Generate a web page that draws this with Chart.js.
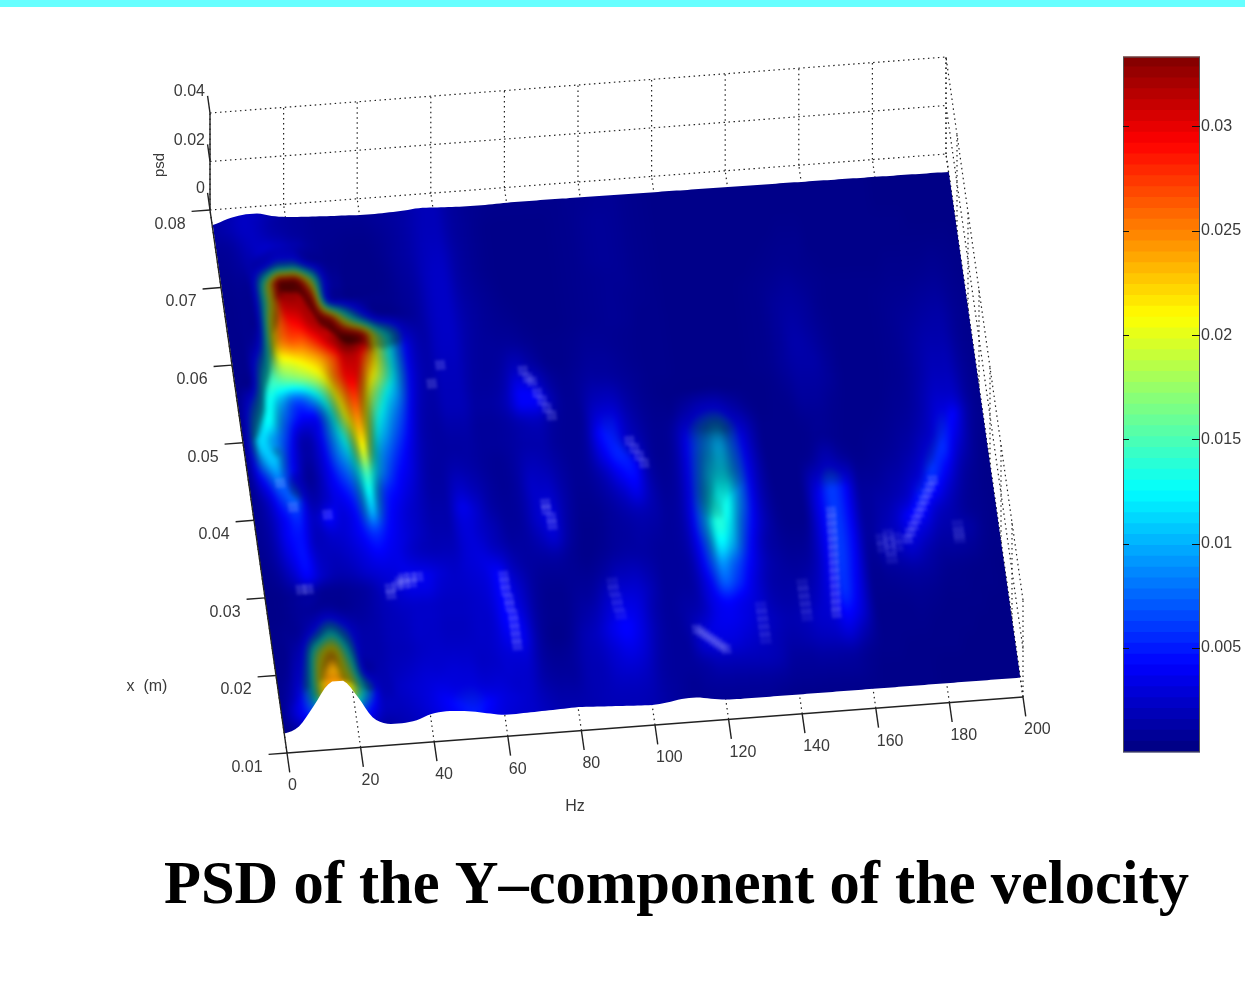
<!DOCTYPE html>
<html>
<head>
<meta charset="utf-8">
<style>
    html, body { margin: 0; padding: 0; background: #fff; overflow: hidden; }
    #top-strip { position: absolute; left: 0; top: 0; width: 1245px; height: 7px; background: #66ffff; }
    #surfaceChart { position: absolute; left: 0; top: 0; }
    #colorbarChart { position: absolute; left: 1123px; top: 46px; }
</style>
<script src="https://cdn.jsdelivr.net/npm/chart.js@4/dist/chart.umd.min.js"></script>
</head>
<body>
<canvas id="surfaceChart" width="1245" height="999"></canvas>
<canvas id="colorbarChart" width="122" height="717"></canvas>
<div id="top-strip"></div>
<script>
const TITLE = 'PSD of the Y\u2013component of the velocity';

// axis ticks
const hzTicks = [0, 20, 40, 60, 80, 100, 120, 140, 160, 180, 200];
const xTicks = [0.01, 0.02, 0.03, 0.04, 0.05, 0.06, 0.07, 0.08];
const psdTicks = [0, 0.02, 0.04];
const colorTicks = [0.005, 0.01, 0.015, 0.02, 0.025, 0.03];

// surface sample positions
const hzValues = [0, 4, 8, 12, 16, 20, 24, 28, 32, 36, 40, 44, 48, 52, 56, 60, 64, 68, 72, 76, 80, 84, 88, 92, 96, 100,
    104, 108, 112, 116, 120, 124, 128, 132, 136, 140, 144, 148, 152, 156, 160, 164, 168, 172, 176, 180, 184, 188, 192, 196, 200];
const xValues = [0.0775, 0.075, 0.0725, 0.07, 0.0675, 0.065, 0.0625, 0.06, 0.0575, 0.055, 0.0525, 0.05, 0.0475, 0.045,
    0.0425, 0.04, 0.0375, 0.035, 0.0325, 0.03, 0.0275, 0.025, 0.0225, 0.02, 0.0175, 0.015, 0.0125];

// psd in units of 1e-4, one row per xValues entry, one column per hzValues entry
const psdRows = [
    [12,16,22,20,14,10,8,6,6,6,6,8,10,13, 18,19,11,7,5, 4,4,4,4,4, 5,6,7,7,5, 4,3,3,3,3,3, 3,3,3,3,3, 3,3,3,3,3, 2,2,2,2,2,2],
    [8,10,18,24,30,22,10,6,5,4,4,6,9,13, 19,20,11,7,4, 3,3,3,3,4, 5,7,8,7,5, 4,3,3,3,3,3, 3,3,3,3,3, 3,3,3,3,3, 2,2,2,2,2,2],
    [6,8,14,30,70,70,20,6,4,3,3,5,9,13, 20,22,12,7,4, 3,3,3,3,4, 5,7,8,7,5, 4,3,3,3,3,3, 3,3,3,4,4, 3,3,3,3,3, 3,3,2,2,2,2],
    [5,6,14,170,325,320,200,30,6,3,3,4,8,12, 21,23,12,7,4, 3,3,3,3,4, 5,7,8,7,5, 4,3,3,3,3,3, 3,3,4,5,5, 3,3,3,3,3, 3,3,3,3,3,2],
    [4,5,10,180,300,320,290,40,10,5,4,4,7,11, 21,23,13,8,5, 3,3,3,3,4, 5,6,7,7,5, 4,3,3,3,3,3, 3,4,5,6,5, 4,3,3,3,3, 4,4,4,5,4,3],
    [4,5,10,210,280,300,320,290,170,80,20,8,7,11, 21,23,14,9,6, 4,3,3,3,4, 5,6,7,6,5, 4,3,3,3,3,3, 4,5,7,9,7, 5,4,4,4,4, 5,5,6,7,5,3],
    [4,5,40,215,260,265,290,320,333,300,170,95,30,13, 21,23,14,9,7, 6,4,3,3,4, 5,6,7,6,4, 4,3,3,3,3,3, 4,5,9,11,9, 5,4,4,4,5, 6,7,9,10,6,4],
    [4,6,90,185,205,220,240,275,315,265,180,100,32,14, 21,22,13,9,9, 11,7,4,4,5, 7,7,6,5,4, 4,3,3,3,3,3, 4,5,9,13,10, 6,4,4,4,5, 7,9,12,13,7,4],
    [4,8,125,150,160,175,205,265,300,230,170,100,32,14, 20,20,12,9,12, 26,16,6,4,6, 9,9,7,5,4, 4,3,3,3,3,3, 4,5,9,14,12, 7,4,4,4,5, 7,11,15,15,7,4],
    [4,60,128,100,70,95,150,230,275,190,130,85,28,13, 19,19,11,10,16, 40,36,14,6,8, 13,13,9,6,4, 4,3,3,3,3,3, 4,5,9,13,13, 8,4,4,4,5, 7,12,18,18,8,4],
    [5,95,125,75,42,38,105,195,250,155,105,65,22,12, 18,18,11,11,18, 40,40,18,7,9, 24,28,14,7,4, 3,3,4,5,3,3, 3,4,7,11,11, 8,4,4,4,5, 7,13,22,22,9,4],
    [5,112,95,58,16,30,85,150,225,130,85,50,18,11, 14,14,9,9,12, 18,20,11,7,9, 38,44,20,9,5, 5,18,35,40,22,8, 3,4,5,9,9, 6,4,4,4,6, 8,16,30,30,10,4],
    [5,85,105,48,12,26,70,115,195,105,65,38,16,11, 12,12,9,9,11, 15,15,9,7,11, 42,50,28,11,6, 12,45,75,90,55,20, 4,4,4,6,7, 5,4,4,5,7, 10,20,42,40,12,4],
    [5,45,82,46,8,24,52,85,150,88,50,32,14,11, 18,14,9,7,11, 20,18,11,7,11, 34,52,44,13,6, 14,52,88,102,65,24, 4,4,4,5,9, 5,4,5,6,9, 14,30,52,35,10,4],
    [5,22,58,72,16,30,38,62,125,60,40,26,13,12, 28,20,11,7,11, 24,24,13,7,9, 20,38,45,15,7, 16,58,102,112,72,26, 5,4,4,10,28, 14,5,6,8,12, 22,48,55,25,8,3],
    [6,16,40,55,22,42,30,48,100,50,32,22,14,14, 34,26,13,8,11, 24,28,14,6,7, 13,23,34,16,8, 18,65,115,125,78,26, 6,4,4,30,60, 44,8,8,12,18, 36,58,40,15,6,3],
    [6,14,38,46,20,26,28,40,60,42,30,22,16,16, 30,26,18,9,11, 24,30,13,5,5, 9,14,18,14,9, 20,72,130,128,75,26, 7,4,4,34,60, 44,10,12,16,28, 50,45,25,10,5,3],
    [5,12,32,46,24,20,24,32,42,36,30,24,20,20, 28,30,24,12,11, 18,26,11,4,5, 9,11,13,11,9, 20,72,135,118,62,24, 8,4,5,34,60, 44,10,14,22,40, 44,25,16,8,5,3],
    [4,8,22,40,24,16,18,25,30,32,36,36,28,24, 28,32,40,20,11, 11,12,7,4,7, 12,14,12,9,9, 18,60,120,100,50,18, 9,6,9,34,60, 44,10,16,22,34, 28,16,14,12,5,3],
    [3,4,8,10,6,6,8,12,22,28,34,34,26,24, 26,30,42,28,12, 7,7,7,7,14, 24,24,16,9,9, 15,50,90,70,40,18, 11,9,13,34,60, 42,8,14,18,24, 16,10,10,8,4,3],
    [3,4,8,14,25,14,10,13,18,22,24,24,22,22, 24,28,42,32,12, 5,5,9,12,26, 34,30,18,9,10, 14,38,70,55,32,16, 12,12,18,34,58, 38,6,8,10,12, 10,6,5,4,3,2],
    [4,6,14,60,115,65,16,14,18,20,24,24,22,22, 24,26,42,36,12, 5,5,12,19,32, 40,32,16,9,12, 18,32,42,36,28,18, 14,16,22,32,55, 34,5,5,6,7, 6,4,4,3,3,2],
    [4,8,45,175,225,125,16,14,18,20,24,26,26,26, 24,26,36,36,12, 4,6,16,22,34, 42,32,16,9,12, 26,34,36,32,26,20, 16,18,24,28,42, 28,5,4,4,5, 4,3,3,3,2,2],
    [4,15,70,215,235,170,25,16,20,24,28,30,32,32, 26,26,28,28,12, 7,9,16,20,28, 34,28,14,9,10, 26,30,30,26,22,18, 14,16,20,22,28, 16,5,4,4,4, 3,3,3,2,2,2],
    [5,25,85,220,240,200,90,18,22,26,30,36,38,40, 34,30,26,24,14, 10,10,16,18,24, 26,22,12,9,9, 13,18,18,18,18,16, 10,10,12,12,12, 7,4,4,3,3, 3,3,2,2,2,2],
    [6,30,60,100,120,100,50,20,20,24,30,38,46,50, 42,32,28,24,18, 14,14,16,18,20, 20,18,12,9,7, 9,10,10,10,10,9, 7,7,7,7,7, 5,3,3,3,3, 2,2,2,2,2,2],
    [4,10,20,40,40,40,20,12,16,20,26,34,42,50, 38,30,26,24,19, 16,16,16,18,18, 18,16,12,9,7, 7,7,7,7,7,5, 4,4,4,4,4, 4,3,3,3,3, 2,2,2,2,2,2]
];

// height of the two free edges of the surface, same units, per hzValues entry
const nearEdge = [0,25,105,190,200,128,40,8,6,14,35,41,38,30,18,8,9,11,13,15,17,14,11,8,5,3,8,18,20,10,2,
    0,0,0,0,0,0,0,0,0,0,0,0,0,0,0,0,0,0,0,0];
const farEdge = [18,38,50,52,37,28,24,21,18,16,13,13,15,18,23,21,18,16,15,16,18,
    18,18,18,17,17,17,16,16,15,15,15,14,14,14,13,13,12,12,12,11,11,10,10,9,9,8,8,7,7,6];

// pale specular spots on the surface
const spotHz = [65,65,65,65.5,65.5,66,66,66,66,66,
    155.5,155.3,155.1,155,154.8,154.6,154.4,154.2,154,153.8,153.6,153.4,153.2,153,
    184,183,182,181,180,179,178,177,176,175,
    34,34,36,38,38,40,40,42,37,
    10,12,11,8.5,20,
    78,79,80,81,82,83,84,
    79,79,80,80,56,53,
    115,116,117,118,119,120,121,122,
    104,105,106,107];
const spotX = [0.0305,0.0295,0.0285,0.0275,0.0265,0.0255,0.0245,0.0235,0.0225,0.0215,
    0.0355,0.0345,0.0335,0.0325,0.0315,0.0305,0.0295,0.0285,0.0275,0.0265,0.0255,0.0245,0.0235,0.0225,
    0.0385,0.0377,0.0369,0.0361,0.0353,0.0345,0.0337,0.0329,0.0321,0.0313,
    0.03,0.0292,0.0303,0.0312,0.0304,0.0312,0.0305,0.0312,0.0308,
    0.0307,0.0307,0.0413,0.0445,0.04,
    0.0565,0.0555,0.055,0.0535,0.0525,0.0515,0.0505,
    0.0393,0.0385,0.0375,0.0365,0.058,0.0557,
    0.0218,0.0214,0.021,0.0206,0.0202,0.0198,0.0194,0.019,
    0.0465,0.0455,0.0445,0.0435];

// fainter ones
const faintHz = [94,94,94.5,94.5,95,
    133,133,133,133,133,
    145,145,145,145,145,
    170,170,170,170,168,168,172,172,189,189,189];
const faintX = [0.0285,0.0275,0.0265,0.0255,0.0245,
    0.024,0.023,0.022,0.021,0.02,
    0.0265,0.0255,0.0245,0.0235,0.0225,
    0.032,0.031,0.03,0.029,0.0315,0.0305,0.0315,0.0305,0.0325,0.0315,0.031];

const COLOR_MAX = 0.03335;
const LEVELS = 64;
const Z_PX = 97 / 0.04;          // screen px per psd unit
const SHEAR_X = -77 / 543;
const SHEAR_Y = -56 / 736;
const TICK_COLOR = '#222222';
const TEXT_COLOR = '#3a3a3a';
const LABEL_FONT = '16px "Liberation Sans", Arial, sans-serif';

function jet(t) {
    t = Math.min(1, Math.max(0, t));
    const ramp = (v) => Math.min(1, Math.max(0, 1.5 - Math.abs(4 * t - v)));
    return [ramp(3), ramp(2), ramp(1)];
}

// cubic through p1..p2, held inside them so steep rims do not ring
function cubic(p0, p1, p2, p3, t) {
    const v = p1 + 0.5 * t * (p2 - p0 + t * (2 * p0 - 5 * p1 + 4 * p2 - p3 + t * (3 * (p1 - p2) + p3 - p0)));
    return Math.min(Math.max(p1, p2), Math.max(Math.min(p1, p2), v));
}

function sampleEdge(edge, hz) {
    const f = Math.min(edge.length - 1.001, Math.max(0, hz / 4));
    const i = Math.floor(f);
    const at = (k) => edge[Math.min(edge.length - 1, Math.max(0, k))];
    return cubic(at(i - 1), at(i), at(i + 1), at(i + 2), f - i);
}

function sampleGrid(rowF, colF) {
    const rows = psdRows.length, cols = hzValues.length;
    rowF = Math.min(rows - 1.001, Math.max(0, rowF));
    colF = Math.min(cols - 1.001, Math.max(0, colF));
    const r = Math.floor(rowF), c = Math.floor(colF);
    const line = [];
    for (let k = -1; k <= 2; k++) {
        const row = psdRows[Math.min(rows - 1, Math.max(0, r + k))];
        line.push(cubic(row[Math.max(0, c - 1)], row[c], row[c + 1], row[Math.min(cols - 1, c + 2)], colF - c));
    }
    return cubic(line[0], line[1], line[2], line[3], rowF - r);
}

// floor + height to screen, the view is close enough to affine
function project(chart, hz, xm, psd) {
    const { left, bottom } = chart.chartArea;
    const px = chart.scales.x.getPixelForValue(hz);
    const py = chart.scales.y.getPixelForValue(xm);
    return {
        x: px + SHEAR_X * (bottom - py),
        y: py + SHEAR_Y * (px - left) - psd * Z_PX
    };
}

function applyShear(chart, ctx) {
    const { left, bottom } = chart.chartArea;
    ctx.transform(1, SHEAR_Y, -SHEAR_X, 1, SHEAR_X * bottom, -SHEAR_Y * left);
}

function strokeLine(chart, ctx, a, b) {
    const p = project(chart, a[0], a[1], a[2]);
    const q = project(chart, b[0], b[1], b[2]);
    ctx.beginPath();
    ctx.moveTo(p.x, p.y);
    ctx.lineTo(q.x, q.y);
    ctx.stroke();
}

function drawWalls(chart, ctx) {
    ctx.save();
    ctx.strokeStyle = '#222222';
    ctx.lineWidth = 1.2;
    ctx.setLineDash([1.5, 3.5]);
    for (const hz of hzTicks) {
        strokeLine(chart, ctx, [hz, 0.08, 0], [hz, 0.08, 0.04]);
        strokeLine(chart, ctx, [hz, 0.01, 0], [hz, 0.08, 0]);
    }
    for (const z of psdTicks) {
        strokeLine(chart, ctx, [0, 0.08, z], [200, 0.08, z]);
        strokeLine(chart, ctx, [200, 0.01, z], [200, 0.08, z]);
    }
    for (const x of xTicks) {
        strokeLine(chart, ctx, [200, x, 0], [200, x, 0.04]);
    }
    ctx.restore();
}

function buildSurfaceImage(chart) {
    const xs = chart.scales.x, ys = chart.scales.y;
    const topPx = Math.floor(ys.getPixelForValue(xValues[0])) - 40;
    const bottomPx = Math.ceil(ys.getPixelForValue(xValues[xValues.length - 1])) + 8;
    const leftPx = Math.floor(xs.left) - 8, rightPx = Math.ceil(xs.right) + 8;
    const w = rightPx - leftPx, h = bottomPx - topPx;
    const step = xValues[0] - xValues[1];
    const pad = 12;
    const span = w + 2 * pad;

    const values = new Float32Array(span * (h + 2 * pad));
    for (let j = 0; j < h + 2 * pad; j++) {
        const xm = ys.getValueForPixel(topPx + j - pad);
        const rowF = (xValues[0] - xm) / step;
        for (let i = 0; i < span; i++) {
            const hz = xs.getValueForPixel(leftPx + i - pad);
            values[j * span + i] = sampleGrid(rowF, hz / 4);
        }
    }

    const canvas = document.createElement('canvas');
    canvas.width = w;
    canvas.height = h;
    const off = canvas.getContext('2d');
    const img = off.createImageData(w, h);
    const unit = 1e-4 * Z_PX;
    for (let j = 0; j < h; j++) {
        for (let i = 0; i < w; i++) {
            const o = (j + pad) * span + i + pad;
            const v = values[o];
            const gx = (values[o + 3] - values[o - 3]) / 6 * unit;
            const gy = (values[o + 12 * span] - values[o - 12 * span]) / 24 * unit;
            // lit from the viewer's side: slopes turned away go dark, the deep blue floor hardly changes
            let shade = 1 / Math.sqrt(1 + 0.5 * gx * gx);
            if (gy > 0) shade /= 1 + 2.8 * gy;
            shade = Math.max(0.5, shade);
            const weight = Math.min(1, v / 80);
            shade = 1 - (1 - shade) * weight;
            const c = jet(v * 1e-4 / COLOR_MAX);
            const p = (j * w + i) * 4;
            img.data[p] = c[0] * shade * 255;
            img.data[p + 1] = c[1] * shade * 255;
            img.data[p + 2] = c[2] * shade * 255;
            img.data[p + 3] = 255;
        }
    }
    off.putImageData(img, 0, 0);
    return { canvas, left: leftPx, top: topPx, w, h };
}

function drawSurface(chart, ctx) {
    const surface = buildSurfaceImage(chart);
    const far = xValues[0], near = xValues[xValues.length - 1];

    ctx.save();
    ctx.beginPath();
    for (let hz = 0; hz <= 200; hz += 1) {
        const p = project(chart, hz, far, sampleEdge(farEdge, hz) * 1e-4);
        if (hz === 0) ctx.moveTo(p.x, p.y); else ctx.lineTo(p.x, p.y);
    }
    for (let hz = 200; hz >= 0; hz -= 1) {
        const p = project(chart, hz, near, sampleEdge(nearEdge, hz) * 1e-4);
        ctx.lineTo(p.x, p.y);
    }
    ctx.closePath();
    ctx.clip();
    applyShear(chart, ctx);
    ctx.imageSmoothingEnabled = true;
    ctx.filter = 'blur(2px)';
    ctx.drawImage(surface.canvas, surface.left, surface.top, surface.w, surface.h);
    ctx.restore();
}

function drawAxes(chart, ctx) {
    ctx.save();
    ctx.strokeStyle = TICK_COLOR;
    ctx.lineWidth = 1.4;
    strokeLine(chart, ctx, [0, 0.01, 0], [200, 0.01, 0]);
    strokeLine(chart, ctx, [0, 0.01, 0], [0, 0.08, 0]);
    strokeLine(chart, ctx, [0, 0.08, 0], [0, 0.08, 0.04]);

    ctx.fillStyle = TEXT_COLOR;
    ctx.font = LABEL_FONT;
    ctx.textBaseline = 'middle';

    ctx.textAlign = 'left';
    for (const hz of hzTicks) {
        strokeLine(chart, ctx, [hz, 0.01, 0], [hz, 0.0075, 0]);
        const p = project(chart, hz, 0.01, 0);
        ctx.fillText(String(hz), p.x + 1, p.y + 33);
    }
    ctx.textAlign = 'right';
    for (const x of xTicks) {
        strokeLine(chart, ctx, [0, x, 0], [-5, x, 0]);
        const p = project(chart, -5, x, 0);
        ctx.fillText(x.toFixed(2), p.x - 6, p.y + 13);
    }
    for (const z of psdTicks) {
        strokeLine(chart, ctx, [0, 0.08, z], [0, 0.0822, z]);
        const p = project(chart, 0, 0.08, z);
        ctx.fillText(String(z), p.x - 5, p.y - 21);
    }

    ctx.textAlign = 'center';
    ctx.fillText('Hz', 575, 807);
    ctx.fillText('x  (m)', 147, 687);
    ctx.save();
    ctx.translate(160, 165);
    ctx.rotate(-Math.PI / 2);
    ctx.font = '15px "Liberation Sans", Arial, sans-serif';
    ctx.fillText('psd', 0, 0);
    ctx.restore();

    ctx.fillStyle = '#000';
    ctx.font = 'bold 60.5px "Liberation Serif", "Times New Roman", serif';
    ctx.textAlign = 'left';
    ctx.textBaseline = 'alphabetic';
    ctx.fillText(TITLE, 164, 903);
    ctx.restore();
}

const surfacePlugin = {
    id: 'surface',
    beforeDatasetsDraw(chart) {
        drawWalls(chart, chart.ctx);
        drawSurface(chart, chart.ctx);
    },
    beforeDatasetDraw(chart) {
        chart.ctx.save();
        applyShear(chart, chart.ctx);
        chart.ctx.filter = 'blur(1.5px)';
    },
    afterDatasetDraw(chart) {
        chart.ctx.restore();
    },
    afterDatasetsDraw(chart) {
        drawAxes(chart, chart.ctx);
    }
};

new Chart(document.getElementById('surfaceChart'), {
    type: 'scatter',
    plugins: [surfacePlugin],
    data: {
        datasets: [{
            label: 'highlights',
            data: spotHz.map((hz, i) => ({ x: hz, y: spotX[i] })),
            pointStyle: 'rect',
            pointRadius: 7,
            pointBorderWidth: 0,
            pointBackgroundColor: 'rgba(170, 170, 255, 0.22)',
            clip: false
        }, {
            label: 'faint highlights',
            data: faintHz.map((hz, i) => ({ x: hz, y: faintX[i] })),
            pointStyle: 'rect',
            pointRadius: 8,
            pointBorderWidth: 0,
            pointBackgroundColor: 'rgba(150, 150, 255, 0.12)',
            clip: false
        }]
    },
    options: {
        responsive: false,
        animation: false,
        layout: { padding: { left: 287, right: 222, top: 210, bottom: 246 } },
        plugins: { legend: { display: false }, tooltip: { enabled: false } },
        scales: {
            x: { type: 'linear', min: 0, max: 200, display: false },
            y: { type: 'linear', min: 0.01, max: 0.08, display: false }
        }
    }
});

// colour bar
const levelDatasets = [];
for (let i = 0; i < LEVELS; i++) {
    const c = jet((i + 0.5) / LEVELS);
    levelDatasets.push({
        data: [[COLOR_MAX * i / LEVELS, COLOR_MAX * (i + 1.05) / LEVELS]],
        backgroundColor: `rgb(${c.map((v) => Math.round(v * 255)).join(',')})`,
        borderWidth: 0,
        grouped: false,
        barPercentage: 1,
        categoryPercentage: 1
    });
}

const colorbarFrame = {
    id: 'colorbarFrame',
    afterDatasetsDraw(chart) {
        const ctx = chart.ctx;
        const { left, right, top, bottom } = chart.chartArea;
        const y = chart.scales.y;
        ctx.save();
        ctx.strokeStyle = '#555';
        ctx.lineWidth = 1;
        ctx.strokeRect(left + 0.5, top + 0.5, right - left - 1, bottom - top - 1);
        ctx.strokeStyle = '#111';
        for (const v of colorTicks) {
            const py = Math.round(y.getPixelForValue(v)) + 0.5;
            ctx.beginPath();
            ctx.moveTo(left, py);
            ctx.lineTo(left + 6, py);
            ctx.moveTo(right - 8, py);
            ctx.lineTo(right, py);
            ctx.stroke();
        }
        ctx.restore();
    }
};

new Chart(document.getElementById('colorbarChart'), {
    type: 'bar',
    plugins: [colorbarFrame],
    data: { labels: [''], datasets: levelDatasets },
    options: {
        responsive: false,
        animation: false,
        layout: { padding: { top: 10, bottom: 10 } },
        plugins: { legend: { display: false }, tooltip: { enabled: false } },
        scales: {
            x: { display: false },
            y: {
                position: 'right',
                min: 0,
                max: COLOR_MAX,
                grid: { display: false, drawTicks: false },
                border: { display: false },
                afterBuildTicks(axis) {
                    axis.ticks = colorTicks.map((v) => ({ value: v }));
                },
                afterFit(axis) {
                    axis.width = 45;
                },
                ticks: {
                    padding: 1,
                    color: TEXT_COLOR,
                    font: { family: '"Liberation Sans", Arial, sans-serif', size: 16 },
                    callback: (v) => String(v)
                }
            }
        }
    }
});
</script>
</body>
</html>
